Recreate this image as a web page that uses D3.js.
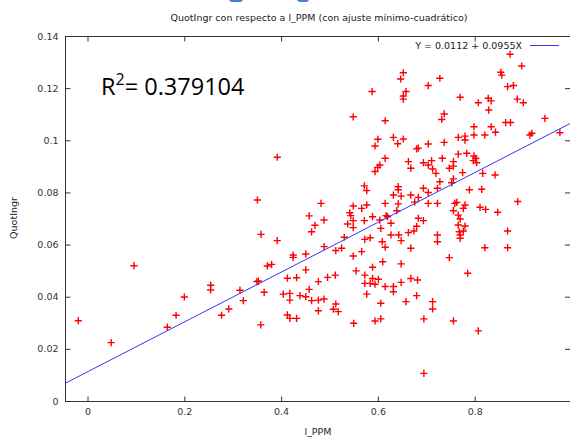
<!DOCTYPE html>
<html>
<head>
<meta charset="utf-8">
<script src="https://cdn.jsdelivr.net/npm/d3@7"></script>
<style>
  body { margin: 0; background: #fff; }
  text { font-family: "DejaVu Sans", sans-serif; }
</style>
</head>
<body>
<div id="chart"></div>
<script>
// l_PPM values (x) and QuotIngr values (y)
const ppm = [
  -0.019, 0.049, 0.096, 0.165, 0.183, 0.200, 0.2545, 0.2545, 0.277, 0.292,
  0.315, 0.322, 0.350, 0.353, 0.3585, 0.358, 0.351, 0.365, 0.3715, 0.3805,
  0.392, 0.392, 0.4045, 0.413, 0.413, 0.418, 0.418, 0.418, 0.425, 0.425,
  0.432, 0.432, 0.439, 0.451, 0.451, 0.451, 0.458, 0.458, 0.463, 0.463,
  0.470, 0.477, 0.477, 0.477, 0.4825, 0.4885, 0.489, 0.4885, 0.496, 0.512,
  0.513, 0.513, 0.508, 0.518, 0.525, 0.5305, 0.5375, 0.542, 0.544, 0.549,
  0.549, 0.549, 0.549, 0.549, 0.550, 0.555, 0.5665, 0.5665, 0.572, 0.572,
  0.573, 0.573, 0.573, 0.577, 0.577, 0.577, 0.584, 0.584, 0.588, 0.589,
  0.589, 0.589, 0.594, 0.594, 0.594, 0.594, 0.5995, 0.600, 0.601, 0.604,
  0.604, 0.606, 0.606, 0.606, 0.609, 0.610, 0.615, 0.615, 0.615, 0.615,
  0.615, 0.617, 0.620, 0.627, 0.627, 0.632, 0.632, 0.632, 0.632, 0.639,
  0.641, 0.642, 0.642, 0.642, 0.643, 0.647, 0.648, 0.648, 0.648, 0.648,
  0.6525, 0.6525, 0.6525, 0.6525, 0.658, 0.658, 0.663, 0.663, 0.668, 0.668,
  0.668, 0.668, 0.6745, 0.680, 0.6835, 0.676, 0.680, 0.6835, 0.682, 0.680,
  0.694, 0.704, 0.711, 0.713, 0.720, 0.694, 0.704, 0.6835, 0.723, 0.704,
  0.723, 0.694, 0.704, 0.704, 0.728, 0.728, 0.713, 0.713, 0.695, 0.695,
  0.723, 0.723, 0.732, 0.737, 0.737, 0.733, 0.7475, 0.7475, 0.7525, 0.756,
  0.756, 0.756, 0.756, 0.756, 0.759, 0.763, 0.766, 0.766, 0.766, 0.766,
  0.768, 0.770, 0.770, 0.770, 0.770, 0.775, 0.7765, 0.7765, 0.780, 0.780,
  0.780, 0.780, 0.7835, 0.7855, 0.789, 0.797, 0.7985, 0.7985, 0.7985, 0.802,
  0.804, 0.8075, 0.8075, 0.811, 0.8145, 0.8165, 0.821, 0.821, 0.8225, 0.828,
  0.834, 0.829, 0.834, 0.842, 0.843, 0.8475, 0.854, 0.856, 0.864, 0.868,
  0.868, 0.868, 0.873, 0.874, 0.880, 0.888, 0.889, 0.897, 0.9005, 0.914,
  0.918, 0.945, 0.976
];
const quotIngr = [
  0.0308, 0.0224, 0.0519, 0.0283, 0.0329, 0.0399, 0.0444, 0.0426, 0.0329, 0.0353,
  0.0425, 0.0385, 0.0458, 0.0460, 0.0639, 0.0292, 0.0771, 0.0417, 0.0518, 0.0524,
  0.0935, 0.0615, 0.0410, 0.0471, 0.0330, 0.0413, 0.0387, 0.0317, 0.0560, 0.0551,
  0.0473, 0.0317, 0.0404, 0.0564, 0.0503, 0.0400, 0.0710, 0.0428, 0.0649, 0.0385,
  0.0674, 0.0458, 0.0387, 0.0346, 0.0758, 0.0694, 0.0592, 0.0391, 0.0474, 0.0483,
  0.0577, 0.0372, 0.0352, 0.0343, 0.0586, 0.0628, 0.0679, 0.0722, 0.0711, 0.1090,
  0.0748, 0.0692, 0.0665, 0.0556, 0.0298, 0.0499, 0.0739, 0.0573, 0.0825, 0.0692,
  0.0620, 0.0483, 0.0451, 0.0807, 0.0752, 0.0410, 0.0626, 0.0451, 0.1187, 0.0707,
  0.0513, 0.0470, 0.0978, 0.0880, 0.0448, 0.0307, 0.0896, 0.1004, 0.0467, 0.0905,
  0.0694, 0.0662, 0.0375, 0.0315, 0.0611, 0.0534, 0.1075, 0.0931, 0.0758, 0.0590,
  0.0439, 0.0711, 0.0707, 0.0682, 0.0637, 0.1011, 0.0790, 0.0439, 0.0419, 0.0730,
  0.0987, 0.0822, 0.0810, 0.0756, 0.0637, 0.1235, 0.0786, 0.0615, 0.0526, 0.0455,
  0.1259, 0.1170, 0.1158, 0.1005, 0.1187, 0.0381, 0.0918, 0.0646, 0.0893, 0.0790,
  0.0586, 0.0470, 0.0652, 0.0967, 0.0970, 0.0763, 0.0670, 0.0701, 0.0464, 0.0404,
  0.0914, 0.0905, 0.0922, 0.0890, 0.0873, 0.0816, 0.0800, 0.0781, 0.0816, 0.0758,
  0.0758, 0.0692, 0.1210, 0.0986, 0.1238, 0.0841, 0.0381, 0.0353, 0.0315, 0.0106,
  0.0637, 0.0611, 0.1080, 0.1101, 0.0992, 0.0931, 0.0893, 0.0550, 0.0837, 0.0918,
  0.0901, 0.0852, 0.0730, 0.0307, 0.0758, 0.0762, 0.1011, 0.0947, 0.0713, 0.0675,
  0.0649, 0.1165, 0.0698, 0.0637, 0.0624, 0.0876, 0.0739, 0.0652, 0.1016, 0.1001,
  0.0752, 0.0671, 0.0950, 0.0490, 0.0810, 0.0922, 0.1052, 0.1020, 0.0940, 0.0931,
  0.0914, 0.1144, 0.0269, 0.0743, 0.0812, 0.0873, 0.1020, 0.0588, 0.0735, 0.1161,
  0.1151, 0.1116, 0.1052, 0.0867, 0.1031, 0.0724, 0.1261, 0.1250, 0.1068, 0.1206,
  0.0652, 0.0588, 0.1330, 0.1068, 0.1210, 0.1158, 0.0765, 0.1285, 0.1144, 0.1020,
  0.1027, 0.1084, 0.1029
];
const xTicks = [0, 0.2, 0.4, 0.6, 0.8];
const yTicks = [0, 0.02, 0.04, 0.06, 0.08, 0.1, 0.12, 0.14];
const intercept = 0.0112, slope = 0.0955;
const rSquared = "0.379104";

const width = 570, height = 437;
const plotLeft = 65.5, plotRight = 570, plotTop = 36, plotBottom = 401;

const svg = d3.select("#chart")
  .append("svg")
  .attr("width", width)
  .attr("height", height);

// the page header above the chart is cut off, only bits of it show
svg.append("rect").attr("x", 229).attr("y", -4).attr("width", 14).attr("height", 6).attr("rx", 3).attr("fill", "#4a7fd4");
svg.append("rect").attr("x", 297).attr("y", -4).attr("width", 12).attr("height", 6).attr("rx", 3).attr("fill", "#4a7fd4");

const x = d3.scaleLinear()
  .domain([-22 / 484, (plotRight - 87.5) / 484])
  .range([plotLeft, plotRight]);
const y = d3.scaleLinear()
  .domain([0, 0.14])
  .range([plotBottom, plotTop]);

const fmt = d => String(+d.toFixed(2));

const axisStyle = g => {
  g.select(".domain").remove();
  g.selectAll(".tick line").attr("stroke", "#333");
  g.selectAll(".tick text").attr("fill", "#333").style("font-size", "9.5px").style("font-family", "DejaVu Sans");
};

svg.append("g")
  .attr("transform", `translate(0,${plotBottom + 0.5})`)
  .call(d3.axisBottom(x).tickValues(xTicks).tickSize(-5).tickPadding(7).tickFormat(fmt))
  .call(axisStyle);
svg.append("g")
  .attr("transform", `translate(0,${plotTop + 0.5})`)
  .call(d3.axisTop(x).tickValues(xTicks).tickSize(-5).tickFormat(""))
  .call(axisStyle);
svg.append("g")
  .attr("transform", `translate(${plotLeft},0)`)
  .call(d3.axisLeft(y).tickValues(yTicks).tickSize(-5).tickPadding(7).tickFormat(fmt))
  .call(axisStyle);
svg.append("g")
  .attr("transform", `translate(${plotRight},0)`)
  .call(d3.axisRight(y).tickValues(yTicks).tickSize(-5).tickFormat(""))
  .call(axisStyle);

svg.append("rect")
  .attr("x", plotLeft).attr("y", plotTop + 0.5)
  .attr("width", plotRight + 1 - plotLeft).attr("height", plotBottom - plotTop)
  .attr("fill", "none").attr("stroke", "#333").attr("stroke-width", 1);

// points as red plus signs, slightly soft strokes like the original
const data = ppm.map((v, i) => ({ x: v, y: quotIngr[i] }));
svg.append("g")
  .attr("stroke", "#ff0000")
  .attr("stroke-width", 1.4)
  .attr("fill", "none")
  .selectAll("path")
  .data(data)
  .join("path")
  .attr("d", d => {
    const cx = x(d.x), cy = y(d.y);
    return `M${cx - 3.6},${cy}H${cx + 3.6}M${cx},${cy - 3.6}V${cy + 3.6}`;
  });

// fitted line
const [x0, x1] = x.domain();
svg.append("line")
  .attr("x1", x(x0)).attr("y1", y(intercept + slope * x0))
  .attr("x2", x(x1)).attr("y2", y(intercept + slope * x1))
  .attr("stroke", "#3333ff")
  .attr("stroke-width", 1);

// legend
svg.append("text")
  .attr("x", 522).attr("y", 48.5)
  .attr("text-anchor", "end")
  .attr("fill", "#222")
  .style("font-size", "9.5px")
  .text(`Y = ${intercept} + ${slope}X`);
svg.append("line")
  .attr("x1", 530).attr("x2", 559)
  .attr("y1", 45.5).attr("y2", 45.5)
  .attr("stroke", "#3333ff");

// title and axis names
svg.append("text")
  .attr("x", 319).attr("y", 21)
  .attr("text-anchor", "middle")
  .attr("fill", "#222")
  .style("font-size", "9.5px")
  .text("QuotIngr con respecto a l_PPM (con ajuste mínimo-cuadrático)");
svg.append("text")
  .attr("x", 318).attr("y", 435)
  .attr("text-anchor", "middle")
  .attr("fill", "#222")
  .style("font-size", "9.5px")
  .text("l_PPM");
svg.append("text")
  .attr("transform", "translate(17,218) rotate(-90)")
  .attr("text-anchor", "middle")
  .attr("fill", "#222")
  .style("font-size", "9.5px")
  .text("QuotIngr");

// R squared annotation
const r2 = svg.append("text")
  .attr("x", 101).attr("y", 94.5)
  .attr("fill", "#000")
  .style("font-family", "'Open Sans', sans-serif")
  .style("font-size", "23.5px");
r2.append("tspan").text("R");
r2.append("tspan").attr("dy", -10).style("font-size", "16px").text("2");
r2.append("tspan").attr("dy", 10).text("= " + rSquared);
</script>
</body>
</html>
